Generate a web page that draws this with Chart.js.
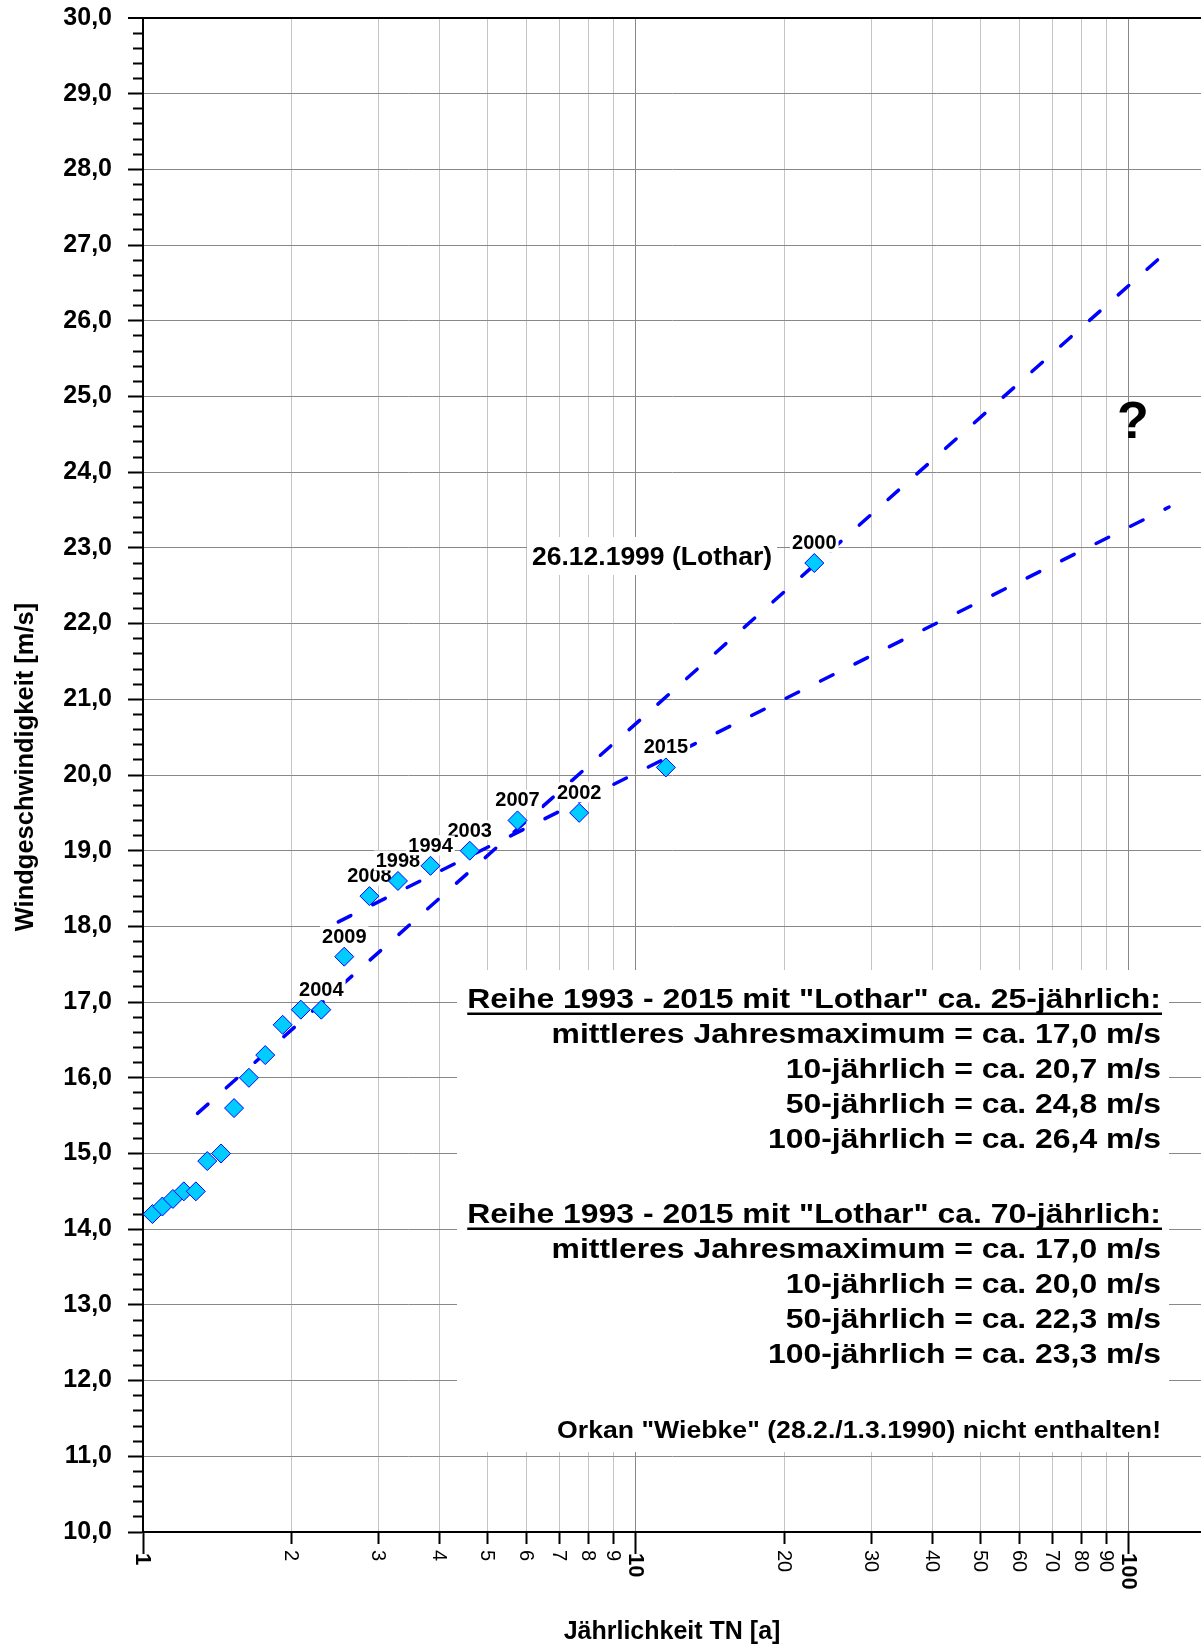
<!DOCTYPE html>
<html>
<head>
<meta charset="utf-8">
<script src="https://cdn.jsdelivr.net/npm/chart.js@4"></script>
<style>
  html, body { margin: 0; padding: 0; background: #fff; }
  canvas { display: block; }
</style>
</head>
<body>
<canvas id="chart" width="1201" height="1646"></canvas>
<script>
// Jährlichkeit (x) und Windgeschwindigkeit (y) der Jahresmaxima
const jaehrlichkeit = [1.045, 1.095, 1.15, 1.21, 1.28, 1.35, 1.44, 1.53, 1.64, 1.77, 1.92,
  2.09, 2.3, 2.56, 2.88, 3.29, 3.83, 4.6, 5.75, 7.67, 11.5, 23];
const windMax = [14.2, 14.3, 14.4, 14.5, 14.5, 14.9, 15.0, 15.6, 16.0, 16.3, 16.7,
  16.9, 16.9, 17.6, 18.4, 18.6, 18.8, 19.0, 19.4, 19.5, 20.1, 22.8];
const jahre = ["", "", "", "", "", "", "", "", "", "", "",
  "", "2004", "2009", "2008", "1998", "1994", "2003", "2007", "2002", "2015", "2000"];

// Ausgleichsgeraden
const fit25T = [1.29, 115];
const fit25V = [15.53, 26.82];
const fit70T = [2.49, 120.6];
const fit70V = [18.06, 23.54];

// Achsen
const xTicks = [1, 2, 3, 4, 5, 6, 7, 8, 9, 10, 20, 30, 40, 50, 60, 70, 80, 90, 100];
const xTickLabels = ["1", "2", "3", "4", "5", "6", "7", "8", "9", "10", "20", "30", "40", "50", "60", "70", "80", "90", "100"];
const xHaupt = [1, 10, 100];
const yMin = 10;
const yMax = 30;

const block25 = [
  "mittleres Jahresmaximum = ca. 17,0 m/s",
  "10-jährlich = ca. 20,7 m/s",
  "50-jährlich = ca. 24,8 m/s",
  "100-jährlich = ca. 26,4 m/s",
];
const block70 = [
  "mittleres Jahresmaximum = ca. 17,0 m/s",
  "10-jährlich = ca. 20,0 m/s",
  "50-jährlich = ca. 22,3 m/s",
  "100-jährlich = ca. 23,3 m/s",
];

const FONT = "'Liberation Sans', Arial, sans-serif";
const isInt = (v) => Math.abs(v - Math.round(v)) < 1e-6;

function textStretch(ctx, text, x, y, size, sx, align) {
  ctx.save();
  ctx.translate(x, y);
  ctx.scale(sx, 1);
  ctx.font = "bold " + size + "px " + FONT;
  ctx.textAlign = align;
  ctx.textBaseline = "alphabetic";
  ctx.fillText(text, 0, 0);
  const w = ctx.measureText(text).width * sx;
  ctx.restore();
  return w;
}

const beschriftung = {
  id: "beschriftung",
  beforeDatasetsDraw(chart) {
    const ctx = chart.ctx;
    ctx.save();
    ctx.fillStyle = "#fff";
    ctx.fillRect(457, 970, 712, 482);
    ctx.fillRect(527, 537, 250, 38);
    ctx.restore();
  },
  beforeDatasetDraw(chart, args) {
    if (args.index !== 0) return;
    const ctx = chart.ctx;
    const xs = chart.scales.x;
    const ys = chart.scales.y;
    ctx.save();
    ctx.font = "bold 20px " + FONT;
    ctx.textAlign = "center";
    ctx.textBaseline = "middle";
    // Jahreszahlen absteigend zeichnen
    const reihenfolge = jahre.map((j, i) => i).filter((i) => jahre[i]);
    reihenfolge.sort((a, b) => Number(jahre[b]) - Number(jahre[a]));
    reihenfolge.forEach((i) => {
      const j = jahre[i];
      const px = xs.getPixelForValue(jaehrlichkeit[i]);
      const py = ys.getPixelForValue(windMax[i]) - 20.5;
      const w = ctx.measureText(j).width;
      ctx.fillStyle = "#fff";
      ctx.fillRect(px - w / 2 - 2, py - 10, w + 4, 20);
      ctx.fillStyle = "#000";
      ctx.fillText(j, px, py + 1);
    });
    ctx.restore();
  },
  afterDraw(chart) {
    const ctx = chart.ctx;
    const xs = chart.scales.x;
    ctx.save();
    ctx.fillStyle = "#000";
    ctx.strokeStyle = "#000";

    // x-Achsenbeschriftung, gedreht
    xTicks.forEach((v, i) => {
      const px = xs.getPixelForValue(v);
      const haupt = xHaupt.includes(v);
      ctx.save();
      ctx.translate(px, haupt ? 1553 : 1550);
      ctx.rotate(Math.PI / 2);
      ctx.font = (haupt ? "bold 22px " : "20px ") + FONT;
      ctx.textAlign = "left";
      ctx.textBaseline = "middle";
      ctx.fillText(xTickLabels[i], 0, 1);
      ctx.restore();
    });

    // Achsentitel
    ctx.font = "bold 25px " + FONT;
    ctx.textAlign = "center";
    ctx.textBaseline = "alphabetic";
    ctx.fillText("Jährlichkeit TN [a]", 672, 1639);
    ctx.save();
    ctx.translate(33, 767);
    ctx.rotate(-Math.PI / 2);
    ctx.font = "bold 25.5px " + FONT;
    ctx.fillText("Windgeschwindigkeit [m/s]", 0, 0);
    ctx.restore();

    // Lothar
    ctx.font = "bold 26.5px " + FONT;
    ctx.fillText("26.12.1999 (Lothar)", 652, 565);

    // Fragezeichen
    ctx.font = "bold 52px " + FONT;
    ctx.fillText("?", 1133, 438);

    // Textblöcke
    const rechts = 1161;
    const bloecke = [
      { titel: 'Reihe 1993 - 2015 mit "Lothar" ca. 25-jährlich:', zeilen: block25, y0: 1008 },
      { titel: 'Reihe 1993 - 2015 mit "Lothar" ca. 70-jährlich:', zeilen: block70, y0: 1223 },
    ];
    bloecke.forEach((b) => {
      const w = textStretch(ctx, b.titel, rechts, b.y0, 28, 1.14, "right");
      ctx.lineWidth = 2.6;
      ctx.beginPath();
      ctx.moveTo(rechts - w, b.y0 + 5.7);
      ctx.lineTo(rechts + 1, b.y0 + 5.7);
      ctx.stroke();
      b.zeilen.forEach((z, k) => {
        textStretch(ctx, z, rechts, b.y0 + 35 * (k + 1), 28, 1.14, "right");
      });
    });
    textStretch(ctx, 'Orkan "Wiebke" (28.2./1.3.1990) nicht enthalten!', rechts, 1437.5, 24, 1.11, "right");
    ctx.restore();
  },
};

new Chart(document.getElementById("chart"), {
  type: "scatter",
  data: {
    datasets: [
      {
        label: "Jahresmaxima",
        data: jaehrlichkeit.map((t, i) => ({ x: t, y: windMax[i] })),
        pointStyle: "rectRot",
        pointRadius: 9.5,
        backgroundColor: "#00ccff",
        borderColor: "#0000ff",
        borderWidth: 1,
      },
      {
        label: "mit Lothar ca. 25-jährlich",
        data: fit25T.map((t, i) => ({ x: t, y: fit25V[i] })),
        showLine: true,
        pointRadius: 0,
        borderColor: "#0000ff",
        borderWidth: 3.5,
        borderDash: [14, 24.5],
        borderCapStyle: "round",
      },
      {
        label: "mit Lothar ca. 70-jährlich",
        data: fit70T.map((t, i) => ({ x: t, y: fit70V[i] })),
        showLine: true,
        pointRadius: 0,
        borderColor: "#0000ff",
        borderWidth: 3.5,
        borderDash: [14, 24.5],
        borderCapStyle: "round",
      },
    ],
  },
  options: {
    responsive: false,
    animation: false,
    devicePixelRatio: 1,
    layout: { autoPadding: false, padding: { top: 18, right: 0, bottom: 0, left: 0 } },
    plugins: {
      legend: { display: false },
      tooltip: { enabled: false },
    },
    scales: {
      x: {
        type: "logarithmic",
        min: 1,
        max: 140,
        afterBuildTicks: (scale) => {
          scale.ticks = xTicks.map((v) => ({ value: v }));
        },
        afterFit: (scale) => {
          scale.height = 114;
          scale.paddingLeft = 0;
          scale.paddingRight = 0;
          scale.paddingTop = 0;
          scale.paddingBottom = 0;
        },
        ticks: { display: false },
        border: { display: true, color: "#000", width: 2 },
        grid: {
          color: (c) => {
            const v = c.tick ? c.tick.value : 0;
            if (v === 1) return "rgba(0,0,0,0)";
            return v === 10 || v === 100 ? "#888" : "#c4c4c4";
          },
          lineWidth: 1,
          tickColor: "#000",
          tickWidth: 2,
          tickLength: 22,
          tickBorderDash: (c) => (c.tick && xHaupt.includes(c.tick.value) ? [] : [11, 100]),
        },
      },
      y: {
        type: "linear",
        min: yMin,
        max: yMax,
        afterFit: (scale) => {
          scale.width = 143;
          scale.paddingLeft = 0;
          scale.paddingRight = 0;
          scale.paddingTop = 0;
          scale.paddingBottom = 0;
        },
        ticks: {
          stepSize: 0.2,
          autoSkip: false,
          padding: 16,
          color: "#000",
          font: { family: FONT, size: 25, weight: "bold" },
          callback: (v) => (isInt(v) ? Number(v).toFixed(1).replace(".", ",") : ""),
        },
        border: { display: true, color: "#000", width: 2 },
        grid: {
          color: (c) => {
            const v = c.tick ? c.tick.value : 0;
            if (!isInt(v)) return "rgba(0,0,0,0)";
            return v === yMax ? "#000" : "#888";
          },
          lineWidth: (c) => (c.tick && c.tick.value === yMax ? 2 : 1),
          tickColor: "#000",
          tickWidth: 2,
          tickLength: 15,
          tickBorderDash: (c) => (c.tick && isInt(c.tick.value) ? [] : [0, 5, 10, 100]),
        },
      },
    },
  },
  plugins: [beschriftung],
});
</script>
</body>
</html>
